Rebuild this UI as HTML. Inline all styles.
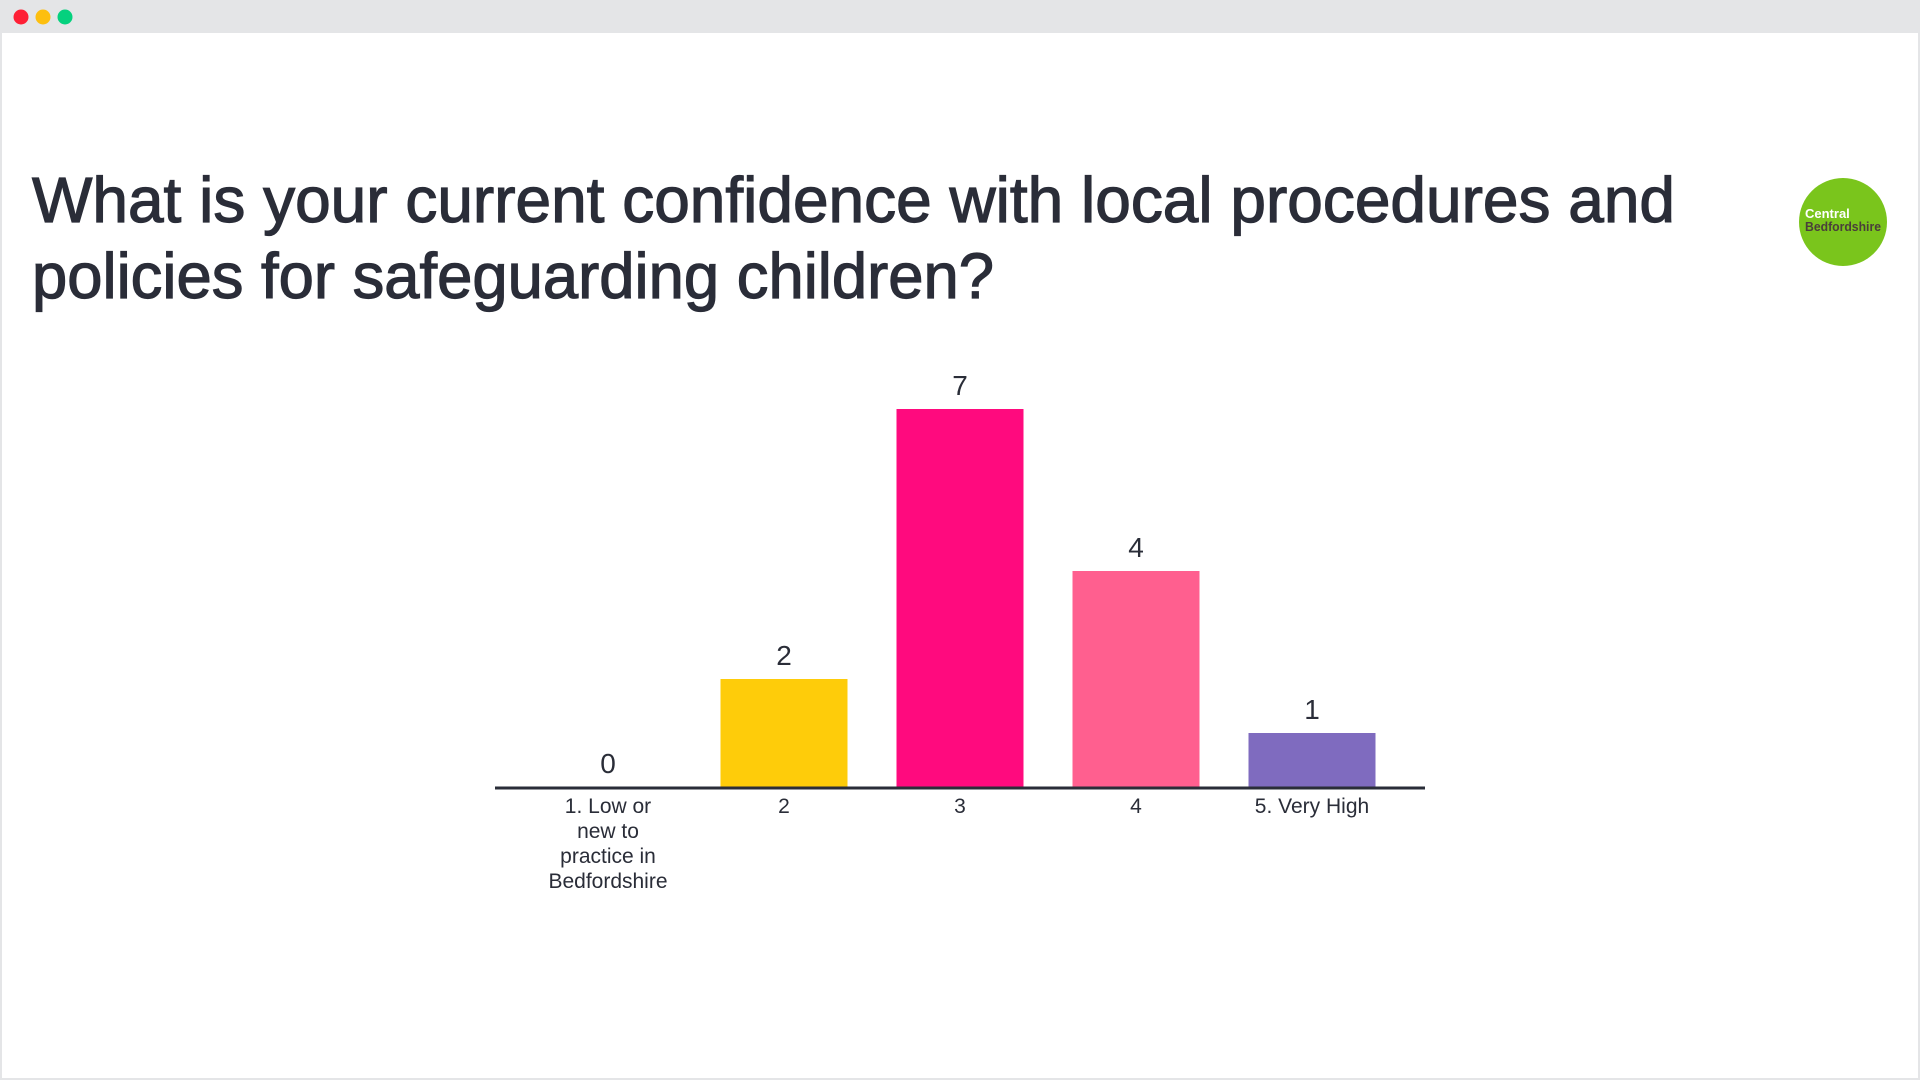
<!DOCTYPE html>
<html><head><meta charset="utf-8"><style>
html,body{margin:0;padding:0;width:1920px;height:1080px;overflow:hidden;background:#fff;font-family:"Liberation Sans",sans-serif}
</style></head><body>
<svg width="1920" height="1080" xmlns="http://www.w3.org/2000/svg">
<rect x="0" y="0" width="1920" height="1080" fill="#e4e5e7"/>
<rect x="2" y="33" width="1916" height="1045" fill="#ffffff"/>
<circle cx="21" cy="17" r="7.5" fill="#fe1f35"/>
<circle cx="43" cy="17" r="7.5" fill="#fdbf0f"/>
<circle cx="65" cy="17" r="7.5" fill="#05d17e"/>
<g fill="#2a2d38" stroke="#2a2d38" stroke-width="1.2" font-size="64">
<text x="32" y="222" textLength="1643" lengthAdjust="spacingAndGlyphs">What is your current confidence with local procedures and</text>
<text x="32" y="298" textLength="962" lengthAdjust="spacingAndGlyphs">policies for safeguarding children?</text>
</g>
<g>
<circle cx="1843" cy="222" r="44" fill="#7ac51c"/>
<text x="1805" y="218" font-size="13" font-weight="bold" fill="#ffffff">Central</text>
<text x="1805" y="231" font-size="13" font-weight="bold" fill="#4a3f3a" textLength="76" lengthAdjust="spacingAndGlyphs">Bedfordshire</text>
</g>
<g id="chart"></g>
</svg>
<script>
const categories = [["1. Low or","new to","practice in","Bedfordshire"],["2"],["3"],["4"],["5. Very High"]];
const values = [0, 2, 7, 4, 1];
const colors = ["#2a2d38","#fecc0a","#ff0a7e","#ff5f8f","#7f6bbf"];
const NS = "http://www.w3.org/2000/svg";
const g = document.getElementById("chart");
const baseY = 787, unit = 54, x0 = 608, step = 176, bw = 127;
function xScale(i){ return x0 + i*step; }
function yScale(v){ return baseY - v*unit; }
function mk(tag, attrs){ const e = document.createElementNS(NS, tag); for (const k in attrs) e.setAttribute(k, attrs[k]); g.appendChild(e); return e; }
values.forEach((v,i)=>{
  const cx = xScale(i);
  if (v > 0) {
    const r = mk("rect", {x: cx-bw/2, y: yScale(v), width: bw, height: baseY - yScale(v), fill: colors[i]});
    
    
  }
  const t = mk("text", {x: cx, y: yScale(v) - 14, "text-anchor": "middle", "font-size": "28", fill: "#2a2d38"});
  t.textContent = v;
  
  
  categories[i].forEach((line, j)=>{
    const c = mk("text", {x: cx, y: 813 + j*25, "text-anchor": "middle", "font-size": "21", fill: "#2a2d38"});
    c.textContent = line;
    
    
  });
});
const ax = mk("line", {x1: 495, x2: 1425, y1: baseY+1, y2: baseY+1, stroke: "#2a2d38", "stroke-width": "3"});


</script>
</body></html>
